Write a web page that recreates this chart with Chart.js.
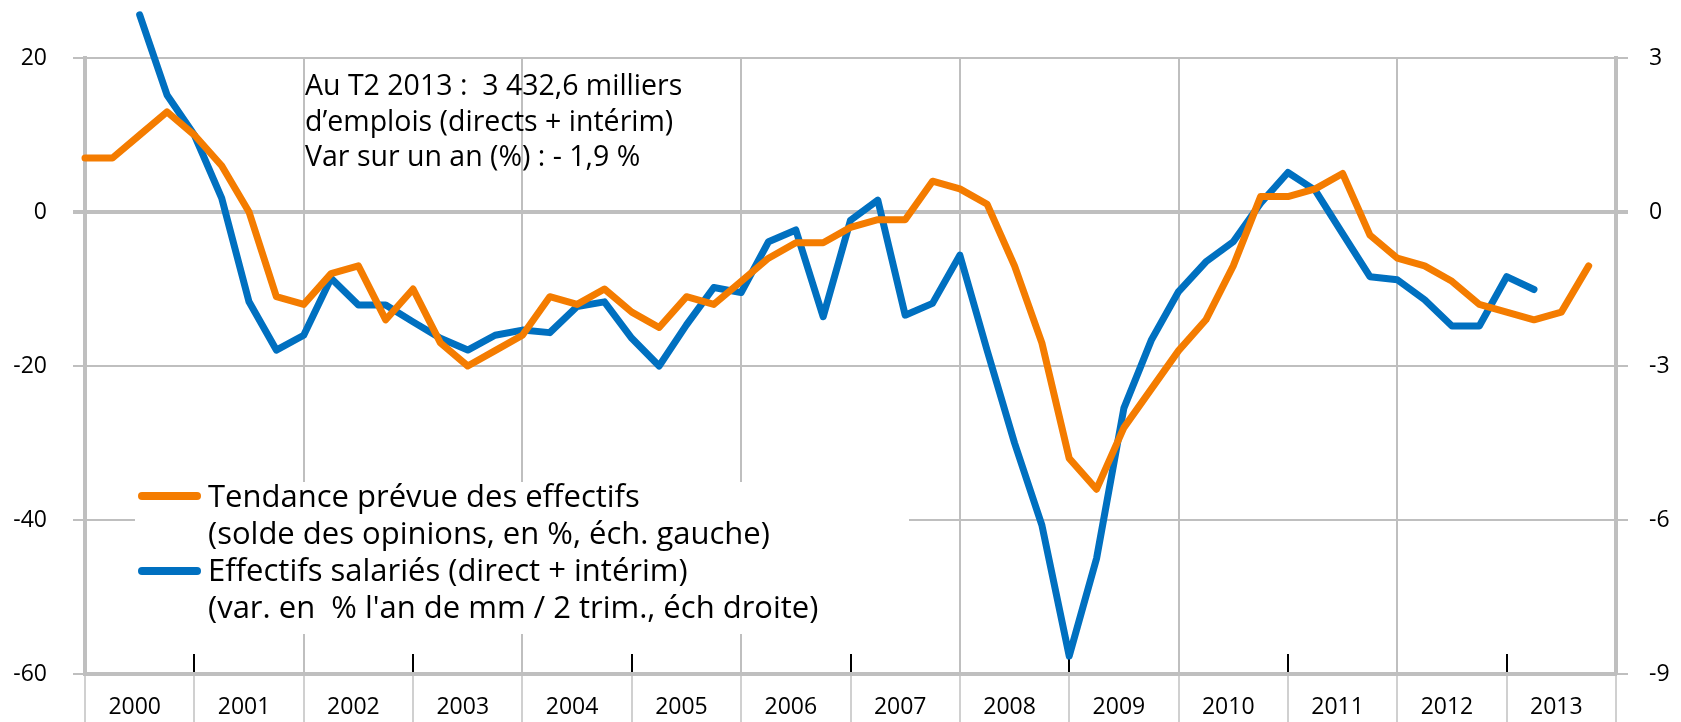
<!DOCTYPE html>
<html>
<head>
<meta charset="utf-8">
<script src="https://cdn.jsdelivr.net/npm/chart.js@4.4.0/dist/chart.umd.min.js"></script>
<style>
  html, body { margin: 0; padding: 0; background: #fff; }
  #wrap { width: 1681px; height: 722px; }
</style>
</head>
<body>
<div id="wrap"><canvas id="chart" width="1681" height="722"></canvas></div>
<script>
// années affichées sous l'axe (4 trimestres par année)
const years = ['2000', '2001', '2002', '2003', '2004', '2005', '2006',
               '2007', '2008', '2009', '2010', '2011', '2012', '2013'];

// tendance prévue des effectifs, solde d'opinions en % (éch. gauche), T1 2000 -> T4 2013
const tendance = [
   7,   7,  10,  13,  10,   6,   0, -11,
 -12,  -8,  -7, -14, -10, -17, -20, -18,
 -16, -11, -12, -10, -13, -15, -11, -12,
  -9,  -6,  -4,  -4,  -2,  -1,  -1,   4,
   3,   1,  -7, -17, -32, -36, -28, -23,
 -18, -14,  -7,   2,   2,   3,   5,  -3,
  -6,  -7,  -9, -12, -13, -14, -13,  -7
];

// effectifs salariés direct + intérim, var. en % (éch. droite)
const effectifs = [
  null,  null,  3.84,  2.28,  1.50,  0.27, -1.75, -2.69,
 -2.40, -1.29, -1.81, -1.81, -2.14, -2.46, -2.69, -2.40,
 -2.30, -2.35, -1.84, -1.75, -2.46, -3.00, -2.20, -1.47,
 -1.57, -0.58, -0.35, -2.04, -0.16,  0.23, -2.01, -1.78,
 -0.84, -2.70, -4.50, -6.10, -8.65, -6.75, -3.82, -2.50,
 -1.55, -0.97, -0.58,  0.17,  0.77,  0.42, -0.42, -1.26,
 -1.32, -1.71, -2.22, -2.22, -1.26, -1.51,  null,  null
];

const leftTicks = [-60, -40, -20, 0, 20];
const rightTicks = [-9, -6, -3, 0, 3];

const legendLines = [
  ['Tendance prévue des effectifs', '(solde des opinions, en %, éch. gauche)'],
  ['Effectifs salariés (direct + intérim)', "(var. en  % l'an de mm / 2 trim., éch droite)"]
];
const noteLines = [
  'Au T2 2013 :  3 432,6 milliers',
  'd’emplois (directs + intérim)',
  'Var sur un an (%) : - 1,9 %'
];

const ORANGE = '#F47C00';
const BLUE = '#0070C0';
const GRID = '#BFBFBF';
const NONE = 'rgba(0,0,0,0)';
const FONT = '"Open Sans", "Noto Sans", sans-serif';

const nQuarters = years.length * 4;
const toPoints = arr => arr.map((v, i) => ({ x: i, y: v }));

// traits noirs, cadre de légende et encadré de texte
const decor = {
  id: 'decor',
  beforeDatasetsDraw(chart) {
    const { ctx, scales: { x, y } } = chart;
    ctx.save();

    ctx.strokeStyle = '#000';
    ctx.lineWidth = 2;
    for (let q = 4; q < nQuarters; q += 8) {
      const px = Math.round(x.getPixelForValue(q));
      ctx.beginPath();
      ctx.moveTo(px, y.bottom - 20);
      ctx.lineTo(px, y.bottom - 2);
      ctx.stroke();
    }

    // légende
    ctx.fillStyle = '#fff';
    ctx.fillRect(135, 482, 774, 152);
    ctx.lineCap = 'round';
    ctx.lineWidth = 8;
    ctx.font = '31px ' + FONT;
    ctx.textBaseline = 'alphabetic';
    ctx.textAlign = 'left';
    const rows = [[496, 507], [571, 581]];
    chart.data.datasets.forEach((ds, i) => {
      const [ly, by] = rows[i];
      ctx.strokeStyle = ds.borderColor;
      ctx.beginPath();
      ctx.moveTo(142, ly);
      ctx.lineTo(197, ly);
      ctx.stroke();
      ctx.fillStyle = '#000';
      legendLines[i].forEach((t, k) => ctx.fillText(t, 208, by + k * 37));
    });

    // note
    ctx.font = '28.5px ' + FONT;
    noteLines.forEach((t, k) => ctx.fillText(t, 305, 95 + k * 35.5));

    ctx.restore();
  }
};

new Chart(document.getElementById('chart'), {
  type: 'line',
  data: {
    datasets: [
      {
        label: legendLines[0].join(' '),
        data: toPoints(tendance),
        yAxisID: 'y',
        borderColor: ORANGE,
        borderWidth: 7,
        pointRadius: 0,
        borderCapStyle: 'round',
        borderJoinStyle: 'round',
        clip: false
      },
      {
        label: legendLines[1].join(' '),
        data: toPoints(effectifs),
        yAxisID: 'y1',
        borderColor: BLUE,
        borderWidth: 7,
        pointRadius: 0,
        borderCapStyle: 'round',
        borderJoinStyle: 'round',
        clip: false
      }
    ]
  },
  options: {
    responsive: false,
    animation: false,
    devicePixelRatio: 1,
    layout: { padding: { top: 58, left: 0, right: 0, bottom: 0 } },
    plugins: { legend: { display: false }, tooltip: { enabled: false } },
    scales: {
      x: {
        type: 'linear',
        min: 0,
        max: nQuarters,
        afterBuildTicks: s => {
          s.ticks = [];
          for (let q = 0; q <= nQuarters; q += 2) s.ticks.push({ value: q });
        },
        afterFit: s => { s.height = 48; },
        border: { display: true, color: GRID, width: 4 },
        grid: {
          color: c => (c.tick && c.tick.value % 8 === 0 && c.tick.value > 0 && c.tick.value < nQuarters) ? GRID : NONE,
          tickColor: c => (c.tick && c.tick.value % 4 === 0) ? '#D0D0D0' : NONE,
          lineWidth: 2,
          tickWidth: 2,
          tickLength: 48
        },
        ticks: {
          autoSkip: false,
          maxRotation: 0,
          padding: -28,
          labelOffset: -5,
          color: '#000',
          font: { family: FONT, size: 23 },
          callback: v => v % 4 === 2 ? years[(v - 2) / 4] : ''
        }
      },
      y: {
        position: 'left',
        min: -60,
        max: 20,
        afterBuildTicks: s => { s.ticks = leftTicks.map(v => ({ value: v })); },
        afterFit: s => { s.width = 85; },
        border: { display: true, color: GRID, width: 4 },
        grid: {
          color: GRID,
          lineWidth: c => (c.tick && c.tick.value === 0) ? 4 : 2,
          tickLength: 12
        },
        ticks: {
          padding: 26,
          color: '#000',
          font: { family: FONT, size: 23 }
        }
      },
      y1: {
        position: 'right',
        min: -9,
        max: 3,
        afterBuildTicks: s => { s.ticks = rightTicks.map(v => ({ value: v })); },
        afterFit: s => { s.width = 65; },
        border: { display: true, color: GRID, width: 4 },
        grid: {
          drawOnChartArea: false,
          color: GRID,
          lineWidth: c => (c.tick && c.tick.value === 0) ? 4 : 2,
          tickLength: 12
        },
        ticks: {
          padding: 21,
          color: '#000',
          font: { family: FONT, size: 23 }
        }
      }
    }
  },
  plugins: [decor]
});
</script>
</body>
</html>
